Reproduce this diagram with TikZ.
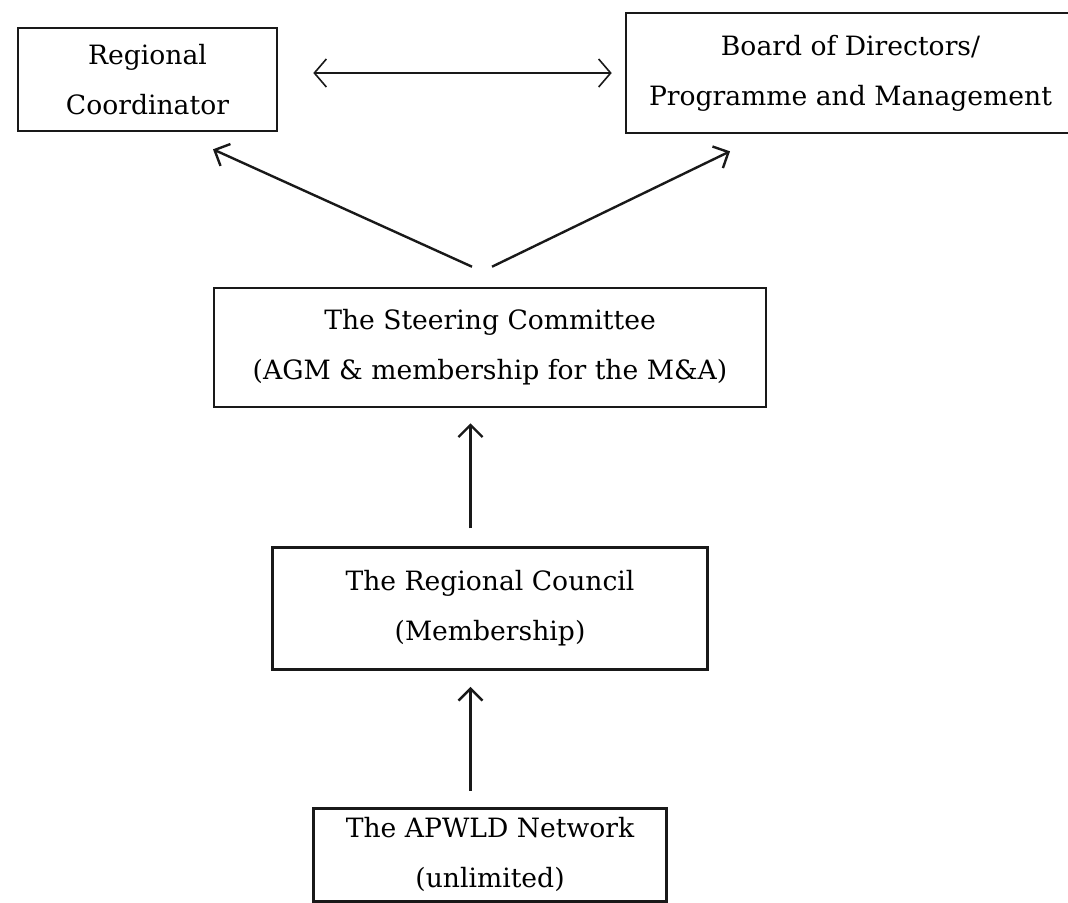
\documentclass[tikz,border=0pt]{standalone}
\usepackage{fontspec}
\setmainfont{DejaVu Serif}
\usetikzlibrary{arrows.meta, positioning}

\begin{document}
\begin{tikzpicture}[
    x=0.5pt, y=-0.5pt,
    box/.style={rectangle, draw=black!90, line width=1.3pt, align=center, inner sep=0pt, font=\fontsize{13.3}{25}\selectfont},
    line/.style={draw=black!90, line width=1.2pt, -{Straight Barb[length=6pt, width=12pt]}},
    dline/.style={draw=black!90, line width=0.8pt, {Straight Barb[length=6pt, width=14pt]}-{Straight Barb[length=6pt, width=14pt]}}
]

\path[use as bounding box, fill=white] (0,0) rectangle (1068,902);

% Nodes
\node[box, minimum width=129.5pt, minimum height=51.5pt] (coord) at (147.5,79.5) {Regional \\ Coordinator};
\node[box, minimum width=224.5pt, minimum height=60pt] (board) at (850.5,73) {Board of Directors/ \\ Programme and Management};

\node[box, minimum width=276pt, minimum height=59.5pt] (steering) at (490,347.5) {The Steering Committee \\ (AGM \& membership for the M\&A)};
\node[box, minimum width=217.5pt, minimum height=61pt, below=69pt of steering] (council) {The Regional Council \\ (Membership)};
\node[box, minimum width=176.5pt, minimum height=46.5pt, below=68pt of council] (network) {The APWLD Network \\ (unlimited)};

% Arrows
\draw[dline] ([xshift=17.5pt]coord.east |- board.west) -- ([xshift=-6.5pt]board.west);

\draw[line] ([xshift=-9pt, yshift=10pt]steering.north) -- ([xshift=32.75pt, yshift=-8.5pt]coord.south);
\draw[line] ([xshift=1pt, yshift=10pt]steering.north) -- ([xshift=-60.25pt, yshift=-8.5pt]board.south);

\draw[line] ([xshift=-9.75pt, yshift=9pt]council.north) -- ([xshift=-9.75pt, yshift=-7.5pt]steering.south);
\draw[line] ([xshift=-9.75pt, yshift=8pt]network.north) -- ([xshift=-9.75pt, yshift=-8pt]council.south);

\end{tikzpicture}
\end{document}
